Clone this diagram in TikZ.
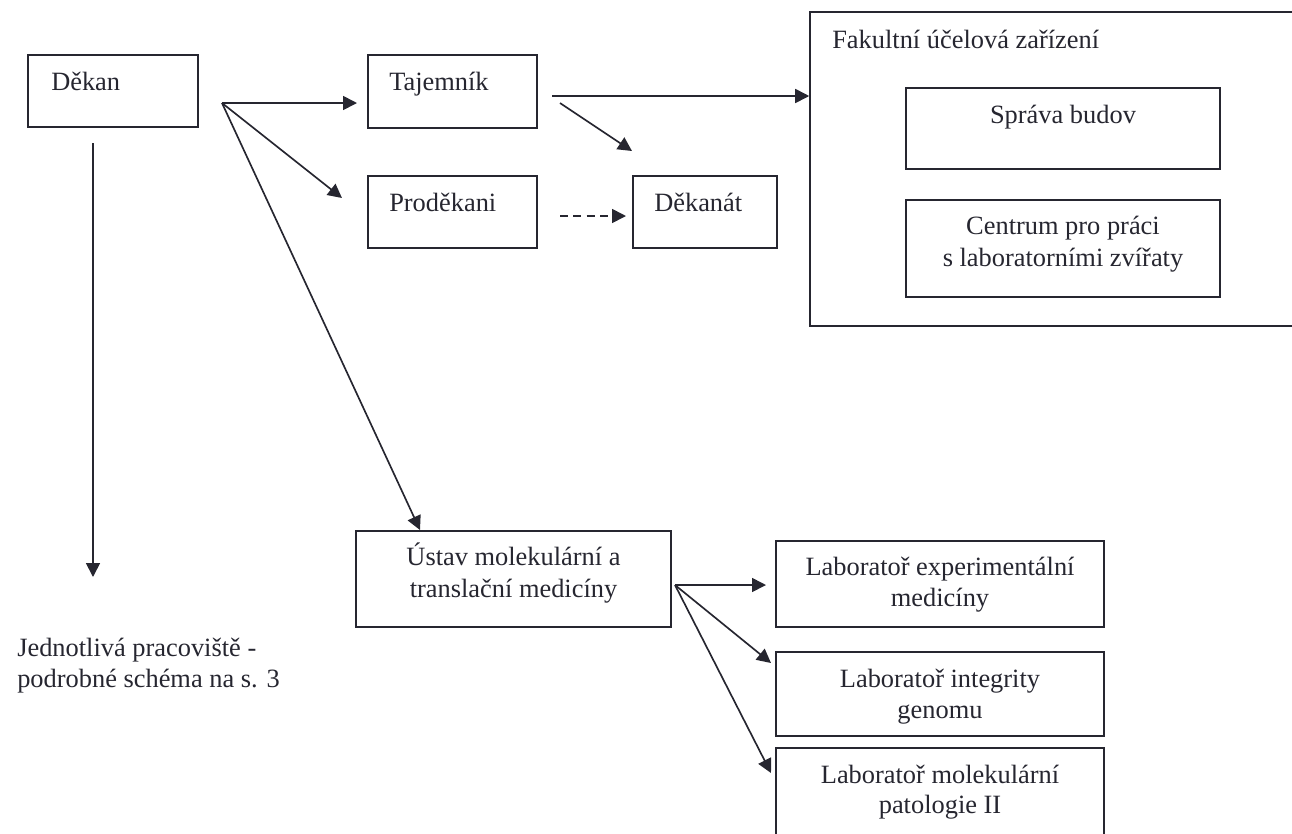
\documentclass[tikz,border=0pt]{standalone}
\usepackage{fontspec}
\setmainfont{Liberation Serif}
\usetikzlibrary{arrows.meta}
\definecolor{ink}{RGB}{38,38,48}
\begin{document}
\begin{tikzpicture}[x=0.75pt,y=-0.75pt,
  txt/.style={font=\fontsize{19.8}{23}\selectfont, text=ink, inner sep=0pt},
  box/.style={draw=ink, line width=1.15pt, inner sep=0pt},
  arr/.style={draw=ink, line width=1.25pt, -{Triangle[length=10.5pt,width=10.5pt]}},
  darr/.style={arr, dash pattern=on 6pt off 4pt}]
\useasboundingbox (0,0) rectangle (1292,833);
% boxes
\node[box, minimum width=127.5pt, minimum height=54pt] (dekan) at (113,91) {};
\node[box, minimum width=126.75pt, minimum height=54.75pt] (taj) at (452.5,91.5) {};
\node[box, minimum width=126.75pt, minimum height=54pt] (prod) at (452.5,212) {};
\node[box, minimum width=108pt, minimum height=54pt] (dekanat) at (705,212) {};
\node[box, minimum width=367.5pt, minimum height=235.5pt] (fuz) at (1055,169) {};
\node[box, minimum width=235.5pt, minimum height=60.75pt] (sprava) at (1063,128.5) {};
\node[box, minimum width=235.5pt, minimum height=72.75pt] (centrum) at (1063,248.5) {};
\node[box, minimum width=236.25pt, minimum height=72pt] (ustav) at (513.5,579) {};
\node[box, minimum width=246pt, minimum height=64.5pt] (labexp) at (940,584) {};
\node[box, minimum width=246pt, minimum height=63pt] (labint) at (940,694) {};
\node[box, minimum width=246pt, minimum height=69pt] (labmol) at (940,794) {};
% texts
\node[txt, anchor=base west] (tdekan) at (51,90) {Děkan};
\node[txt, anchor=base west] (ttaj) at (389,90) {Tajemník};
\node[txt, anchor=base west] (tprod) at (389,211) {Proděkani};
\node[txt, anchor=base west] (tdekanat) at (654,211) {Děkanát};
\node[txt, anchor=base west] (tfuz) at (832,48) {Fakultní účelová zařízení};
\node[txt, anchor=base] (tspr) at (1063,123) {Správa budov};
\node[txt, anchor=base] (tcen1) at (1063,234) {Centrum pro práci};
\node[txt, anchor=base] (tcen2) at (1063,266) {s laboratorními zvířaty};
\node[txt, anchor=base] (tust1) at (513.5,565) {Ústav molekulární a};
\node[txt, anchor=base] (tust2) at (513.5,597) {translační medicíny};
\node[txt, anchor=base] (texp1) at (940,575) {Laboratoř experimentální};
\node[txt, anchor=base] (texp2) at (940,606) {medicíny};
\node[txt, anchor=base] (tint1) at (940,687) {Laboratoř integrity};
\node[txt, anchor=base] (tint2) at (940,718) {genomu};
\node[txt, anchor=base] (tmol1) at (940,783) {Laboratoř molekulární};
\node[txt, anchor=base] (tmol2) at (940,813) {patologie II};
\node[txt, anchor=base west] (tjed1) at (17,656) {Jednotlivá pracoviště -};
\node[txt, anchor=base west] (tjed2) at (17,687) {podrobné schéma na s. 3};
% connector points
\coordinate (fanD) at (222,103);
\coordinate (tipTaj) at (357,103);
\coordinate (tipProd) at (342,198);
\coordinate (tipUst) at (420,530);
\coordinate (vTop) at (93,143);
\coordinate (vTip) at (93,577);
\coordinate (tajR) at (552,96);
\coordinate (tajR2) at (560,103);
\coordinate (tipDekanat) at (632,151);
\coordinate (prodR) at (560,216);
\coordinate (tipDekanat2) at (626,216);
\coordinate (fanU) at (675,585);
\coordinate (tipExp) at (766,585);
\coordinate (tipInt) at (771,663);
\coordinate (tipMol) at (771,773);
% connectors
\draw[arr] (fanD) -- (tipTaj);
\draw[arr] (fanD) -- (tipProd);
\draw[arr] (fanD) -- (tipUst);
\draw[arr] (vTop) -- (vTip);
\draw[arr] (tajR) -- (tajR -| fuz.west);
\draw[arr] (tajR2) -- (tipDekanat);
\draw[darr] (prodR) -- (tipDekanat2);
\draw[arr] (fanU) -- (tipExp);
\draw[arr] (fanU) -- (tipInt);
\draw[arr] (fanU) -- (tipMol);
\end{tikzpicture}
\end{document}
